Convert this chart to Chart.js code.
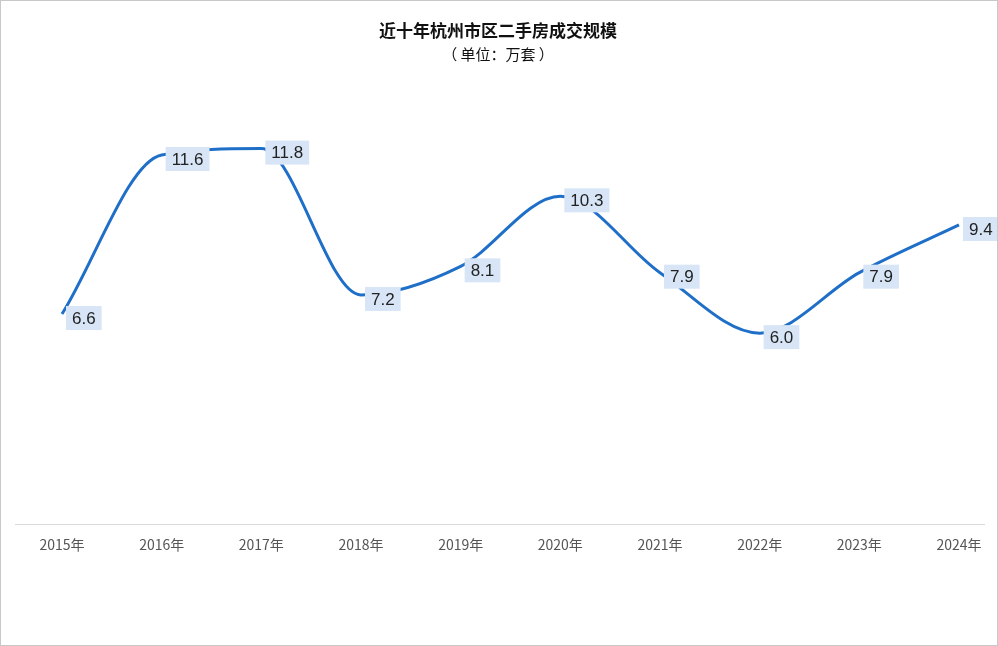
<!DOCTYPE html>
<html>
<head>
<meta charset="utf-8">
<script src="https://cdn.jsdelivr.net/npm/chart.js@4/dist/chart.umd.min.js"></script>
<style>
  html, body { margin: 0; padding: 0; background: #fff; }
  #wrap { width: 996px; height: 644px; border: 1px solid #c8c8c8; }
</style>
</head>
<body>
<div id="wrap"><canvas id="chart" width="996" height="644"></canvas></div>
<script>
const years = ["2015年", "2016年", "2017年", "2018年", "2019年", "2020年", "2021年", "2022年", "2023年", "2024年"]
const volumes = [6.6, 11.6, 11.8, 7.2, 8.1, 10.3, 7.9, 6.0, 7.9, 9.4]

const titleText = "近十年杭州市区二手房成交规模"
const subtitleText = "（ 单位：万套 ）"

// titles, value boxes and the axis line
const extras = {
    id: 'extras',
    afterDatasetsDraw(chart) {
        const ctx = chart.ctx
        ctx.save()
        ctx.textAlign = 'center'
        ctx.textBaseline = 'middle'
        ctx.fillStyle = '#111'
        ctx.font = 'bold 17px "Noto Sans CJK SC", sans-serif'
        ctx.fillText(titleText, 497, 30)
        ctx.font = '15px "Noto Sans CJK SC", sans-serif'
        ctx.fillText(subtitleText, 497, 53)

        ctx.strokeStyle = '#d9d9d9'
        ctx.lineWidth = 1
        ctx.beginPath()
        ctx.moveTo(14, chart.chartArea.bottom + 0.5)
        ctx.lineTo(984, chart.chartArea.bottom + 0.5)
        ctx.stroke()

        ctx.font = '17px "Liberation Sans", Arial, sans-serif'
        chart.getDatasetMeta(0).data.forEach((pt, i) => {
            const txt = volumes[i].toFixed(1)
            const w = ctx.measureText(txt).width + 12
            const cx = pt.x + 4 + w / 2
            const cy = pt.y + 4
            ctx.fillStyle = '#d7e5f7'
            ctx.fillRect(cx - w / 2, cy - 12, w, 24)
            ctx.fillStyle = '#222'
            ctx.fillText(txt, cx, cy + 1)
        })
        ctx.restore()
    }
}

new Chart(document.getElementById('chart'), {
    type: 'line',
    data: {
        labels: years,
        datasets: [{
            data: volumes,
            borderColor: '#1f6fc8',
            borderWidth: 3,
            cubicInterpolationMode: 'monotone',
            pointRadius: 0,
            fill: false
        }]
    },
    options: {
        responsive: false,
        animation: false,
        layout: { padding: { left: 61, right: 38, top: 84, bottom: 91 } },
        plugins: { legend: { display: false }, tooltip: { enabled: false } },
        scales: {
            x: {
                offset: false,
                grid: { display: false, drawTicks: false },
                border: { display: false },
                ticks: { color: '#555', font: { size: 14, family: '"Noto Sans CJK SC", sans-serif' }, padding: 12, maxRotation: 0, autoSkip: false },
                afterFit(scale) { scale.height = 30 }
            },
            y: { display: false, min: 0, max: 13.8 }
        }
    },
    plugins: [extras]
})
</script>
</body>
</html>
